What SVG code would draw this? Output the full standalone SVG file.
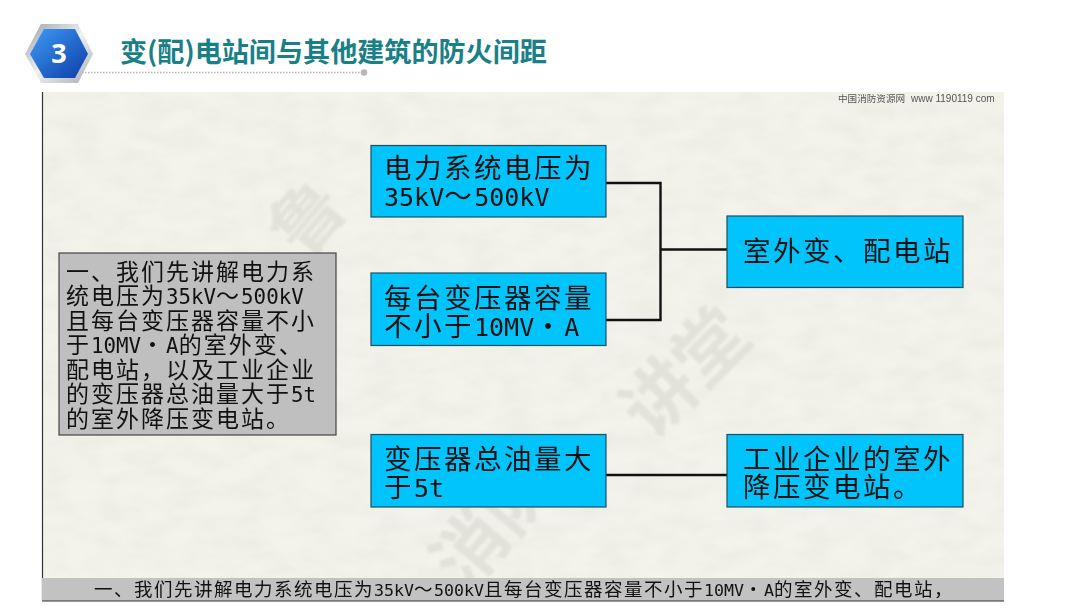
<svg xmlns="http://www.w3.org/2000/svg" width="1080" height="608" viewBox="0 0 1080 608">
<style>
text{white-space:pre}
.cjk{font-family:"Liberation Sans","Noto Sans CJK SC",sans-serif;fill:#111}
.n{font-size:27.5px;letter-spacing:2.5px}
.n .m{font-family:"DejaVu Sans Mono","Noto Sans CJK SC",monospace;font-size:25px;letter-spacing:0}
.g{font-size:23px;letter-spacing:2px}
.g .m{font-family:"DejaVu Sans Mono","Noto Sans CJK SC",monospace;font-size:20.8px;letter-spacing:0}
.s{font-size:18.5px;letter-spacing:1.5px}
.s .m{font-family:"DejaVu Sans Mono","Noto Sans CJK SC",monospace;font-size:16.6px;letter-spacing:0}
.b{fill:#00c4fb;stroke:#1f4e5f;stroke-width:1.2}
.c{fill:none;stroke:#111;stroke-width:2.4}
.wm{font-family:"Noto Sans CJK SC",sans-serif;font-weight:700;font-size:72px;fill:#e3e2d9;text-anchor:middle}
</style>
<defs>
<linearGradient id="hex" x1="0" y1="0" x2="1" y2="1"><stop offset="0" stop-color="#3f9bf5"/><stop offset="1" stop-color="#0b3da8"/></linearGradient>
<linearGradient id="rim" x1="0" y1="0" x2="1" y2="1"><stop offset="0" stop-color="#9aa3ac"/><stop offset=".5" stop-color="#eef0f2"/><stop offset="1" stop-color="#a8adb3"/></linearGradient>
<filter id="blur"><feGaussianBlur stdDeviation="1.2"/></filter>
<filter id="paper" x="0" y="0" width="1" height="1"><feTurbulence type="fractalNoise" baseFrequency="0.03 0.06" numOctaves="3" seed="4"/><feColorMatrix values="0 0 0 0 0.55  0 0 0 0 0.55  0 0 0 0 0.48  0.5 0 0 0 -0.16"/></filter>
</defs>
<rect width="1080" height="608" fill="#fff"/>
<g id="header">
<polygon points="25,54 41,24 78,24 93,54 78,83 41,83" fill="url(#rim)"/>
<polygon points="30,54 44,29 75,29 88,54 75,78 44,78" fill="url(#hex)"/>
<text x="59" y="63" text-anchor="middle" font-family="'Open Sans','Liberation Sans',sans-serif" font-weight="700" font-size="27" fill="#fff">3</text>
<text x="120" y="62" font-family="'Noto Sans CJK SC',sans-serif" font-weight="700" font-size="27.100" fill="#1a8088">变(配)电站间与其他建筑的防火间距</text>
<line x1="82" y1="72.500" x2="361" y2="72.500" stroke="#b5b5b5" stroke-width="1.500" stroke-dasharray="1.500 1.500"/>
<circle cx="364" cy="72.500" r="3.300" fill="#b8b8b8"/>
</g>
<g id="panel">
<rect x="42" y="92" width="962" height="509" fill="#f3f3eb"/>
<rect x="42" y="92" width="962" height="509" filter="url(#paper)" opacity=".45"/>
<g filter="url(#blur)">
<text class="wm" transform="translate(327 234) rotate(-50)">鲁</text>
<text class="wm" transform="translate(703 390) rotate(-45)">讲堂</text>
<text class="wm" transform="translate(513 538) rotate(-50)">消防</text>
</g>
<line x1="42.500" y1="92" x2="42.500" y2="601" stroke="#333" stroke-width="1.200"/>
<text y="102" font-family="'Liberation Sans','Noto Sans CJK SC',sans-serif" fill="#555"><tspan x="838" font-size="9.600">中国消防资源网</tspan><tspan x="911" font-size="10">www 1190119 com</tspan></text>
</g>
<g id="connectors">
<path class="c" d="M606 183H660.500V320H606"/>
<path class="c" d="M660.500 249.500H727"/>
<path class="c" d="M606 475H727"/>
</g>
<g id="note">
<rect x="59" y="253" width="277" height="182" fill="#bfbfbf" stroke="#444" stroke-width="1.200"/>
<text class="cjk g" x="66" y="279.500">一、我们先讲解电力系</text>
<text class="cjk g" x="66" y="304">统电压为<tspan class="m">35kV</tspan>～<tspan class="m">500kV</tspan></text>
<text class="cjk g" x="66" y="328.500">且每台变压器容量不小</text>
<text class="cjk g" x="66" y="353">于<tspan class="m">10MV</tspan>・<tspan class="m">A</tspan>的室外变、</text>
<text class="cjk g" x="66" y="377.500">配电站，以及工业企业</text>
<text class="cjk g" x="66" y="402">的变压器总油量大于<tspan class="m">5t</tspan></text>
<text class="cjk g" x="66" y="426.500">的室外降压变电站。</text>
</g>
<g id="box1">
<rect class="b" x="371" y="145.500" width="235" height="71.500"/>
<text class="cjk n" x="384" y="177.500">电力系统电压为</text>
<text class="cjk n" x="384" y="206"><tspan class="m">35kV</tspan>～<tspan class="m">500kV</tspan></text>
</g>
<g id="box2">
<rect class="b" x="371" y="273" width="235" height="72.500"/>
<text class="cjk n" x="384" y="307.500">每台变压器容量</text>
<text class="cjk n" x="384" y="336">不小于<tspan class="m">10MV</tspan>・<tspan class="m">A</tspan></text>
</g>
<g id="box3">
<rect class="b" x="727" y="216" width="236" height="71.500"/>
<text class="cjk n" x="743" y="261">室外变、配电站</text>
</g>
<g id="box4">
<rect class="b" x="371" y="434.500" width="235" height="72.500"/>
<text class="cjk n" x="384" y="469">变压器总油量大</text>
<text class="cjk n" x="384" y="497">于<tspan class="m">5t</tspan></text>
</g>
<g id="box5">
<rect class="b" x="727" y="434.500" width="236" height="72.500"/>
<text class="cjk n" x="743" y="469">工业企业的室外</text>
<text class="cjk n" x="743" y="497">降压变电站。</text>
</g>
<g id="caption">
<rect x="42" y="578" width="962" height="23" fill="#c2c2c2"/>
<line x1="42" y1="601" x2="1004" y2="601" stroke="#333" stroke-width="1.200"/>
<text class="cjk s" x="94" y="596">一、我们先讲解电力系统电压为<tspan class="m">35kV</tspan>～<tspan class="m">500kV</tspan>且每台变压器容量不小于<tspan class="m">10MV</tspan>・<tspan class="m">A</tspan>的室外变、配电站，</text>
</g>
</svg>
